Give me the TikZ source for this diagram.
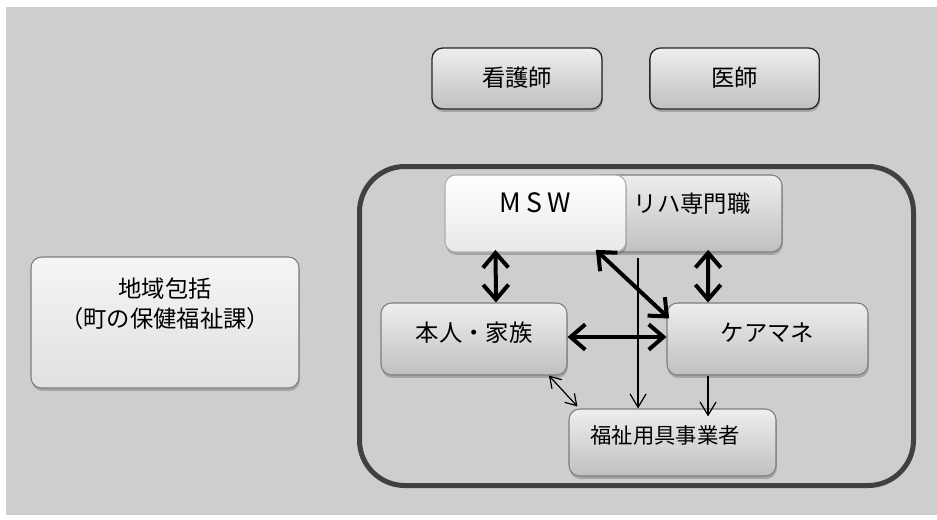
\documentclass[tikz,border=0pt]{standalone}
\usepackage{fontspec}
\setmainfont{Noto Sans CJK JP}
\newfontfamily\spacedfont[LetterSpace=20]{Noto Sans CJK JP}
\usetikzlibrary{arrows.meta, shadows}
\definecolor{bggray}{RGB}{206,206,206}
\definecolor{framegray}{RGB}{64,64,64}
\definecolor{linegray}{RGB}{125,125,125}
\definecolor{boxtop}{RGB}{238,238,238}
\definecolor{boxbottom}{RGB}{192,192,192}
\tikzset{
x=0.75pt, y=-0.75pt, % one unit is one pixel of the original, y runs downwards
every node/.style={font=\fontsize{17.5}{23}\selectfont}, % size of all the labels
lift/.style={text height=14pt, text depth=#1}, % a deeper text box pushes the label up in its box
role/.style={draw=linegray, line width=0.8pt, rounded corners=8pt, top color=boxtop, bottom color=boxbottom,
  drop shadow={shadow xshift=0.6pt, shadow yshift=-2.2pt, opacity=0.4, fill=black!60}}, % one box per member
outside/.style={role, draw=black!85, line width=1pt}, % the two boxes above the team
bigarrow/.style={{Straight Barb[length=11pt,width=19pt]}-{Straight Barb[length=11pt,width=19pt]}, line width=3pt},
thinarrow/.style={-{Straight Barb[length=10pt,width=12pt]}, line width=0.9pt},
pairarrow/.style={{Straight Barb[length=8pt,width=10pt]}-{Straight Barb[length=8pt,width=10pt]}, line width=0.9pt},
}

\begin{document}
\begin{tikzpicture}
    \useasboundingbox (0,0) rectangle (937,519);
    \fill[bggray] (6,7) rectangle (937,515);

    \node[outside, lift=2.5pt, minimum width=127.5pt, minimum height=45.75pt] (kango) at (517,78.5) {看護師};
    \node[outside, lift=2.5pt, minimum width=127pt, minimum height=45.75pt] (ishi) at (734.5,78.5) {医師};

    \node[draw=framegray, line width=3.75pt, rounded corners=34pt, minimum width=415.5pt, minimum height=239.25pt] (team) at (636.5,326) {};
    \node[role, lift=15.25pt, minimum width=144.75pt, minimum height=57.75pt] (reha) at (685.5,213.5) {\hspace*{10pt}リハ専門職};
    \node[role, top color=white, bottom color=white!91!black, draw=white!68!black, lift=15.25pt,
          font=\fontsize{20}{24}\selectfont, minimum width=135.75pt, minimum height=57.75pt] (msw) at (535.5,213.5) {\spacedfont MSW};
    \node[role, lift=10.75pt, minimum width=139.5pt, minimum height=54pt] (honnin) at (474,339) {本人・家族};
    \node[role, lift=10.75pt, minimum width=150.75pt, minimum height=54pt] (caremane) at (767.5,339) {ケアマネ};
    \node[role, font=\fontsize{16}{20}\selectfont, lift=12pt, minimum width=155.25pt, minimum height=50.25pt] (fukushi) at (672.5,442.5) {福祉用具事業者\hspace*{11pt}};

    \node[role, top color=white!96!black, bottom color=white!88!black, align=center, text depth=30pt,
          minimum width=201pt, minimum height=98.25pt] (chiiki) at (165,322.5) {地域包括\\（町の保健福祉課）};

    \draw[bigarrow] ([xshift=-30pt,yshift=2pt]msw.south) -- ([xshift=16.5pt]honnin.north);
    \draw[bigarrow] ([xshift=17pt,yshift=2pt]reha.south) -- ([xshift=-44.6pt]caremane.north);
    \draw[bigarrow] ([xshift=-23pt,yshift=2pt]msw.south east) -- ([xshift=2pt,yshift=-12pt]caremane.north west);
    \draw[bigarrow] ([yshift=1.5pt]honnin.east) -- ([yshift=1.5pt]caremane.west);

    \coordinate (drop) at ([xshift=-35.6pt,yshift=-3.75pt]reha.south);
    \draw[thinarrow] (drop) -- (drop |- fukushi.north);
    \draw[thinarrow] ([xshift=-44.6pt]caremane.south) coordinate (cmout) -- ([yshift=-6pt]cmout |- fukushi.north);
    \draw[pairarrow] ([xshift=-14pt]honnin.south east) -- ([xshift=6.75pt,yshift=1.5pt]fukushi.north west);
\end{tikzpicture}
\end{document}
